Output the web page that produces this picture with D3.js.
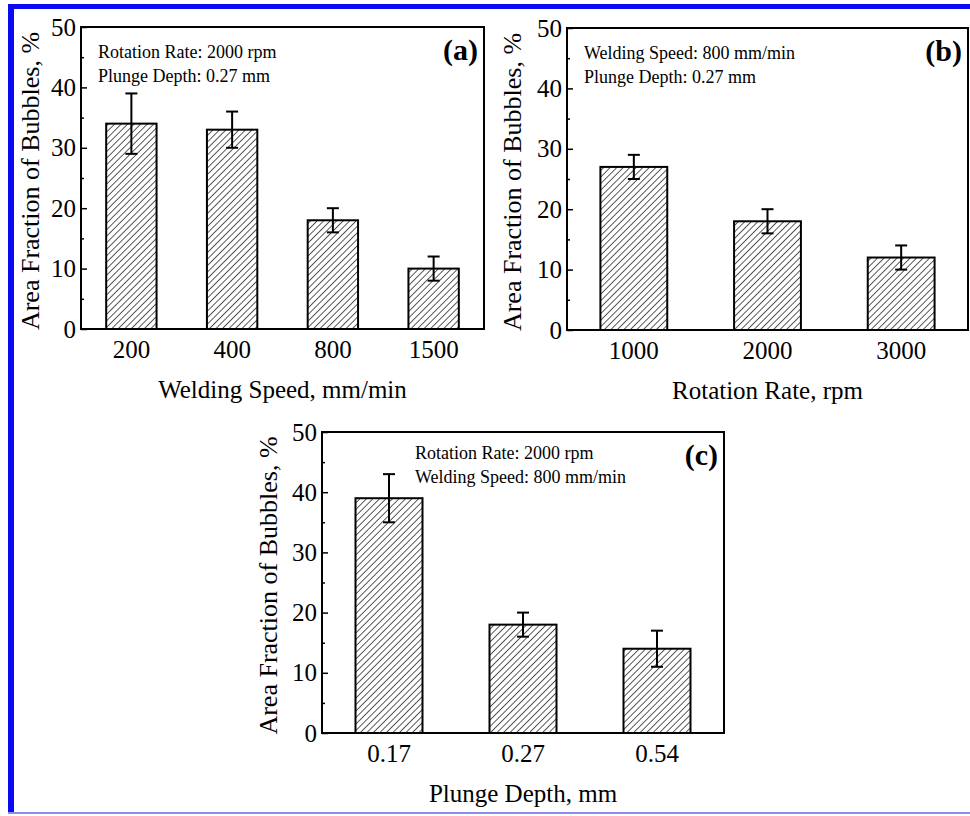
<!DOCTYPE html>
<html>
<head>
<meta charset="utf-8">
<script src="https://cdn.jsdelivr.net/npm/d3@7"></script>
<style>
  body { margin: 0; background: #fff; }
  svg { display: block; }
  text { font-family: "Liberation Serif", "Times New Roman", serif; fill: #000; }
</style>
</head>
<body>
<script>
// chart data
var yTicks = [0, 10, 20, 30, 40, 50];

var speedCats = ["200", "400", "800", "1500"];
var speedVals = [34, 33, 18, 10];
var speedErr = [5, 3, 2, 2];

var rateCats = ["1000", "2000", "3000"];
var rateVals = [27, 18, 12];
var rateErr = [2, 2, 2];

var depthCats = ["0.17", "0.27", "0.54"];
var depthVals = [39, 18, 14];
var depthErr = [4, 2, 3];

var width = 970,
	height = 816;

var serif = "'Liberation Serif', 'Times New Roman', serif";

var svg = d3.select("body").append("svg")
	.attr("width", width)
	.attr("height", height);

svg.append("rect").attr("width", width).attr("height", height).attr("fill", "#fff");

// hatch pattern for the bars
var defs = svg.append("defs");
var hatch = defs.append("pattern")
	.attr("id", "hatch")
	.attr("patternUnits", "userSpaceOnUse")
	.attr("width", 4.6)
	.attr("height", 4.6)
	.attr("patternTransform", "rotate(45)");
hatch.append("rect").attr("width", 4.6).attr("height", 4.6).attr("fill", "#fff");
hatch.append("line")
	.attr("x1", 0).attr("y1", 0)
	.attr("x2", 0).attr("y2", 4.6)
	.attr("stroke", "#000")
	.attr("stroke-width", 1.3);

// blue page border
svg.append("rect").attr("x", 8).attr("y", 4).attr("width", 6).attr("height", 810).attr("fill", "#0a0af0");
svg.append("rect").attr("x", 8).attr("y", 4).attr("width", 962).attr("height", 5).attr("fill", "#0a0af0");
svg.append("rect").attr("x", 8).attr("y", 812).attr("width", 962).attr("height", 2).attr("fill", "#8c8cf5");

var drawPanel = function(p) {
	var g = svg.append("g")
		.attr("transform", "translate(" + p.left + "," + p.top + ")");

	var x = d3.scaleBand()
		.domain(p.cats)
		.range([0, p.w])
		.paddingInner(0.5)
		.paddingOuter(0.25);

	var y = d3.scaleLinear()
		.domain([0, 50])
		.range([p.h, 0]);

	// bars
	g.selectAll("rect.bar")
		.data(p.cats)
		.enter()
		.append("rect")
		.attr("class", "bar")
		.attr("x", function(d) { return x(d); })
		.attr("y", function(d, i) { return y(p.vals[i]); })
		.attr("width", x.bandwidth())
		.attr("height", function(d, i) { return p.h - y(p.vals[i]); })
		.attr("fill", "url(#hatch)")
		.attr("stroke", "#000")
		.attr("stroke-width", 2);

	// error bars
	var err = g.selectAll("g.err")
		.data(p.cats)
		.enter()
		.append("g")
		.attr("class", "err")
		.attr("transform", function(d) { return "translate(" + (x(d) + x.bandwidth() / 2) + ",0)"; });

	err.append("line")
		.attr("y1", function(d, i) { return y(p.vals[i] - p.err[i]); })
		.attr("y2", function(d, i) { return y(p.vals[i] + p.err[i]); })
		.attr("stroke", "#000").attr("stroke-width", 2);
	err.append("line")
		.attr("x1", -6).attr("x2", 6)
		.attr("y1", function(d, i) { return y(p.vals[i] + p.err[i]); })
		.attr("y2", function(d, i) { return y(p.vals[i] + p.err[i]); })
		.attr("stroke", "#000").attr("stroke-width", 2);
	err.append("line")
		.attr("x1", -6).attr("x2", 6)
		.attr("y1", function(d, i) { return y(p.vals[i] - p.err[i]); })
		.attr("y2", function(d, i) { return y(p.vals[i] - p.err[i]); })
		.attr("stroke", "#000").attr("stroke-width", 2);

	// y axis: major + minor ticks pointing inward
	var yAxis = d3.axisLeft(y).tickValues(yTicks).tickSizeInner(-6).tickSizeOuter(0).tickPadding(5);
	var yg = g.append("g").attr("class", "axis").call(yAxis).attr("font-family", serif);
	yg.select(".domain").remove();
	yg.selectAll("line").attr("stroke", "#000").attr("stroke-width", 1.5);
	yg.selectAll("text").attr("font-size", 25).style("font-family", serif);

	var minor = yTicks.slice(0, -1).map(function(t) { return t + 5; });
	var ymg = g.append("g").call(d3.axisLeft(y).tickValues(minor).tickSizeInner(-3).tickSizeOuter(0).tickFormat(""));
	ymg.select(".domain").remove();
	ymg.selectAll("line").attr("stroke", "#000").attr("stroke-width", 1.5);

	// x axis labels
	var xg = g.append("g")
		.attr("transform", "translate(0," + p.h + ")")
		.call(d3.axisBottom(x).tickSize(0).tickPadding(11))
		.attr("font-family", serif);
	xg.select(".domain").remove();
	xg.selectAll("text").attr("font-size", 25).style("font-family", serif);

	// frame
	g.append("rect")
		.attr("width", p.w)
		.attr("height", p.h)
		.attr("fill", "none")
		.attr("stroke", "#000")
		.attr("stroke-width", 2);

	// axis titles
	g.append("text")
		.attr("text-anchor", "middle")
		.attr("font-size", 25)
		.attr("x", p.w / 2)
		.attr("y", p.h + 69)
		.text(p.xLabel);

	g.append("text")
		.attr("text-anchor", "middle")
		.attr("font-size", 26)
		.attr("transform", "translate(" + (-p.yLabelDx) + "," + (p.h / 2 + 3) + ") rotate(-90)")
		.text("Area Fraction of Bubbles, %");

	// notes and panel tag
	p.notes.forEach(function(n, i) {
		g.append("text")
			.attr("font-size", 18)
			.attr("x", p.noteDx)
			.attr("y", p.noteDy + i * 23.5)
			.text(n);
	});

	g.append("text")
		.attr("text-anchor", "end")
		.attr("font-size", 30)
		.attr("font-weight", "bold")
		.attr("x", p.w - 6)
		.attr("y", 33)
		.text(p.tag);
};

drawPanel({
	left: 81, top: 27, w: 403, h: 302,
	cats: speedCats, vals: speedVals, err: speedErr,
	xLabel: "Welding Speed, mm/min",
	notes: ["Rotation Rate: 2000 rpm", "Plunge Depth: 0.27 mm"],
	noteDx: 17, noteDy: 31, yLabelDx: 42, tag: "(a)"
});

drawPanel({
	left: 567, top: 28, w: 401, h: 302,
	cats: rateCats, vals: rateVals, err: rateErr,
	xLabel: "Rotation Rate, rpm",
	notes: ["Welding Speed: 800 mm/min", "Plunge Depth: 0.27 mm"],
	noteDx: 17, noteDy: 31, yLabelDx: 46, tag: "(b)"
});

drawPanel({
	left: 322, top: 432, w: 402, h: 301,
	cats: depthCats, vals: depthVals, err: depthErr,
	xLabel: "Plunge Depth, mm",
	notes: ["Rotation Rate: 2000 rpm", "Welding Speed: 800 mm/min"],
	noteDx: 93, noteDy: 27, yLabelDx: 45, tag: "(c)"
});
</script>
</body>
</html>
